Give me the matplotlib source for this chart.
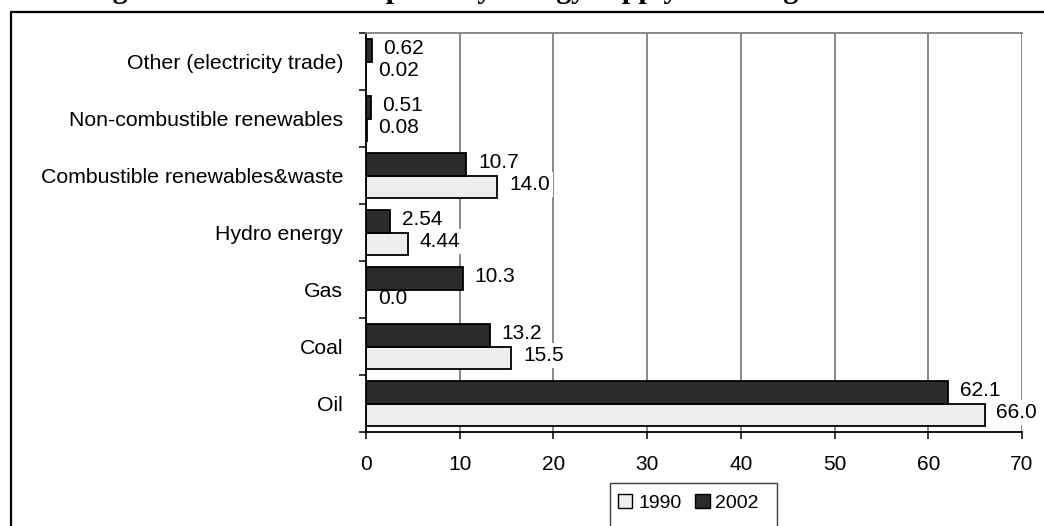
import matplotlib
matplotlib.use("Agg")
import matplotlib.pyplot as plt
from matplotlib.patches import Rectangle, Patch
from matplotlib.ticker import FixedLocator
import numpy as np

# Energy sources, listed bottom to top
categories = [
    "Oil",
    "Coal",
    "Gas",
    "Hydro energy",
    "Combustible renewables&waste",
    "Non-combustible renewables",
    "Other (electricity trade)",
]
supply_1990 = [66.0, 15.5, 0.0, 4.44, 14.0, 0.08, 0.02]
supply_2002 = [62.1, 13.2, 10.3, 2.54, 10.7, 0.51, 0.62]
series_names = ["1990", "2002"]
x_ticks = [0, 10, 20, 30, 40, 50, 60, 70]
title_text = "Figure 2.3 Structure of primary energy supply in Georgia"

LIGHT = "#eeeeee"
DARK = "#2b2b2b"
GRID = "#808080"

W, H = 1044, 526
plt.rcParams["font.family"] = ["Liberation Sans", "DejaVu Sans"]
fig = plt.figure(figsize=(W / 100, H / 100), dpi=100)


def px_x(p):
    return p / W


def px_y(p):
    return 1 - p / H


# Outer frame running off the right and bottom edges
fig.patches.append(Rectangle((px_x(11), -0.2), 1.2, px_y(12) + 0.2,
                             transform=fig.transFigure, fill=False,
                             edgecolor="black", linewidth=1.6, zorder=0))

# Title, sitting mostly above the canvas
fig.text(px_x(86), 1 + 2 / H, title_text, fontfamily="Liberation Serif",
         fontweight="bold", fontsize=21.6, va="baseline", ha="left")

ax = fig.add_axes([px_x(366), px_y(432), px_x(1022) - px_x(366),
                   px_y(33) - px_y(432)])
ax.set_axisbelow(True)

y = np.arange(len(categories))
h = 0.4
ax.barh(y - h / 2, supply_1990, height=h, color=LIGHT, edgecolor="black",
        linewidth=1.3, zorder=2)
ax.barh(y + h / 2, supply_2002, height=h, color=DARK, edgecolor="black",
        linewidth=1.3, zorder=2)

ax.set_xlim(0, 70)
ax.set_ylim(-0.5, len(categories) - 0.5)

# Category labels at centres, outward ticks at the boundaries
ax.yaxis.set_major_locator(FixedLocator(y))
ax.set_yticklabels(categories, fontsize=15.3)
ax.yaxis.set_minor_locator(FixedLocator(np.arange(-0.5, len(categories), 1)))
ax.tick_params(axis="y", which="major", length=0, pad=16.5)
ax.tick_params(axis="y", which="minor", length=5, width=1.1, color="black",
               direction="out")

ax.xaxis.set_major_locator(FixedLocator(x_ticks))
ax.set_xticklabels([str(t) for t in x_ticks], fontsize=15)
ax.tick_params(axis="x", which="major", length=5, width=1.1, color="black",
               direction="out", pad=11.3)

# Vertical gridlines (the one at 70 doubles as the right edge)
ax.grid(axis="x", color=GRID, linewidth=1.3)
ax.grid(axis="y", visible=False)

for side in ["left", "bottom"]:
    ax.spines[side].set_color("black")
    ax.spines[side].set_linewidth(1.3)
ax.spines["top"].set_color(GRID)
ax.spines["top"].set_linewidth(1.3)
ax.spines["right"].set_visible(False)


def fmt(v):
    return f"{v:.2f}" if 0 < v < 10 else f"{v:.1f}"


# Value labels on white boxes that hide the gridlines but stay under the bars
for vals, off, z in ((supply_2002, h / 2, 1.5), (supply_1990, -h / 2, 1.6)):
    for yi, v in zip(y, vals):
        ax.annotate(fmt(v), xy=(v, yi + off), xytext=(8.5, 1.5),
                    textcoords="offset points", ha="left", va="center",
                    fontsize=15, zorder=z,
                    bbox=dict(boxstyle="square,pad=0.15", facecolor="white",
                              edgecolor="none"))

# Legend with its frame running past the bottom edge
fig.patches.append(Rectangle((px_x(610), -0.1), px_x(777) - px_x(610),
                             px_y(483) + 0.1, transform=fig.transFigure,
                             facecolor="white", edgecolor="#404040",
                             linewidth=1.0, zorder=1))
handles = [Patch(facecolor=LIGHT, edgecolor="black", linewidth=1.0),
           Patch(facecolor=DARK, edgecolor="black", linewidth=1.0)]
fig.legend(handles, series_names, loc="center left",
           bbox_to_anchor=(px_x(608), px_y(503)), ncol=2, frameon=False,
           fontsize=14, borderpad=0, handlelength=0.75, handleheight=0.75,
           handletextpad=0.3, columnspacing=0.7)

fig.savefig("out.png", dpi=100, facecolor="white")
